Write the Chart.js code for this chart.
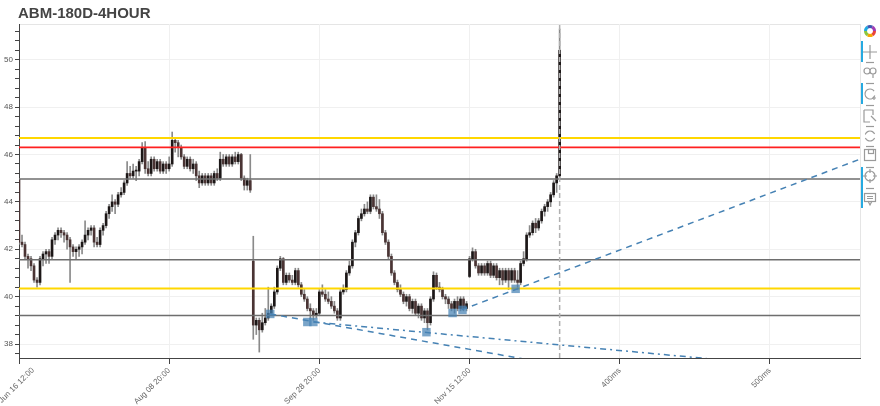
<!DOCTYPE html>
<html lang="en">
<head>
<meta charset="UTF-8" />
<title>ABM-180D-4HOUR</title>
<script src="https://cdn.jsdelivr.net/npm/chart.js@4"></script>
<style>
  html, body { margin: 0; padding: 0; background: #fff; }
  #wrap { position: relative; width: 880px; height: 406px; overflow: hidden; }
  #chart { position: absolute; left: 0; top: 0; }
  #title { position: absolute; left: 18px; top: 4px; font: bold 15px "Liberation Sans", Arial, sans-serif; color: #444; }
  #tools { position: absolute; left: 860px; top: 0; }
</style>
</head>
<body>
<div id="wrap">
  <canvas id="chart" width="880" height="406"></canvas>
  <div id="title">ABM-180D-4HOUR</div>
  <canvas id="tools" width="20" height="406"></canvas>
</div>
<script>
// 4-hour candles (one every 2 axis units)
const opens = [
  44.95,42.3,42.2,41.7,41.6,41.3,40.7,40.6,41.6,41.8,
  41.9,41.7,42.4,42.6,42.8,42.7,42.6,42.4,42.1,41.9,
  42.0,42.1,42.3,42.6,42.8,42.9,42.3,42.2,42.8,43.0,
  43.5,43.8,44.0,43.9,44.3,44.4,44.8,45.2,45.1,45.3,
  45.3,45.7,46.3,45.4,45.2,45.8,45.4,45.7,45.3,45.6,
  45.4,45.6,46.6,46.5,46.3,45.9,45.5,45.8,45.4,45.6,
  45.1,44.8,45.1,44.8,45.1,44.8,45.2,45.0,45.8,45.6,
  45.9,45.6,45.9,45.7,46.0,45.0,44.7,44.9,41.5,38.8,
  39.0,38.6,38.9,39.1,39.3,39.6,40.2,41.2,41.6,40.6,
  40.9,40.7,40.6,41.1,40.5,40.1,39.9,39.5,39.4,39.2,
  39.3,40.2,40.1,39.9,39.8,39.6,39.4,39.1,40.2,40.3,
  41.0,41.3,42.3,42.7,43.3,43.5,43.7,43.6,44.2,43.8,
  43.7,43.5,42.7,42.3,41.7,41.0,40.6,40.3,40.1,39.8,
  40.0,39.5,39.8,39.3,39.6,39.1,39.4,38.9,39.9,40.9,
  40.4,40.3,40.0,39.9,39.7,39.5,39.8,39.5,39.9,39.5,
  40.85,41.6,41.9,41.3,41.0,41.3,41.0,41.4,40.9,41.3,
  40.8,41.1,40.7,41.1,40.7,41.1,40.7,40.6,41.4,41.6,
  42.6,42.7,43.1,42.9,43.2,43.6,43.8,44.0,44.3,44.8,
  45.1
];
const highs = [
  45.0,42.6,42.3,41.8,41.7,41.4,40.8,41.7,41.9,42.0,
  42.0,42.5,42.7,42.9,42.9,42.8,42.7,42.5,42.2,42.1,
  42.2,42.4,43.2,42.9,43.0,43.0,42.5,42.9,43.1,43.6,
  43.9,44.3,44.1,44.4,44.6,44.9,45.7,45.5,45.6,45.5,
  45.8,46.5,46.55,45.7,45.9,45.9,45.8,45.8,45.7,45.7,
  45.9,46.95,46.7,46.6,46.4,46.0,45.9,45.9,45.8,45.7,
  45.3,45.2,45.2,45.2,45.2,45.3,45.4,46.1,46.0,46.0,
  46.0,46.0,46.1,46.1,46.05,45.1,45.0,46.0,42.55,39.1,
  39.1,39.3,39.5,40.4,39.7,40.4,41.3,41.7,41.65,41.0,
  41.0,40.9,41.2,41.2,40.6,40.3,40.0,39.7,39.5,39.5,
  40.3,40.5,40.3,40.2,40.0,39.8,39.5,40.3,40.5,41.1,
  41.5,42.4,42.8,43.4,43.7,43.9,44.0,44.3,44.3,44.3,
  44.1,43.6,42.8,42.4,41.8,41.1,40.7,40.5,40.2,40.1,
  40.1,39.9,39.9,39.7,39.7,39.5,39.5,40.0,41.05,41.0,
  40.6,40.4,40.1,40.0,39.8,39.9,40.0,40.0,40.0,39.8,
  41.7,42.06,42.0,41.4,41.4,41.4,41.5,41.5,41.4,41.4,
  41.2,41.2,41.2,41.2,41.2,41.2,41.1,41.5,41.9,42.7,
  43.0,43.2,43.3,43.3,43.7,43.9,44.1,44.4,44.9,45.2,
  51.3
];
const lows = [
  42.2,42.1,41.6,41.2,41.1,40.6,40.4,40.5,41.3,41.4,
  41.4,41.6,42.2,42.4,42.5,42.3,42.0,40.6,41.7,41.6,
  41.7,41.8,42.2,42.4,42.6,42.1,42.1,42.1,42.6,42.9,
  43.3,43.6,43.5,43.8,44.2,44.3,44.7,45.0,45.0,44.9,
  45.1,45.6,45.2,45.1,45.1,45.3,45.3,45.2,45.2,45.2,
  45.3,45.5,46.1,45.9,45.8,45.4,45.4,45.3,45.2,44.9,
  44.6,44.7,44.7,44.7,44.7,44.7,44.9,44.9,45.5,45.5,
  45.5,45.5,45.6,45.6,44.9,44.5,44.5,44.4,38.2,38.4,
  37.66,38.5,38.8,39.0,39.2,39.5,40.1,41.1,40.5,40.5,
  40.6,40.5,40.5,40.4,40.0,39.8,39.4,39.1,39.0,39.1,
  39.2,40.0,39.8,39.7,39.5,39.3,39.0,39.0,40.1,40.2,
  40.9,41.2,42.1,42.6,43.2,43.4,43.5,43.5,43.7,43.6,
  43.3,42.6,42.2,41.6,40.9,40.5,40.2,40.0,39.7,39.6,
  39.4,39.3,39.2,39.1,39.0,38.9,38.6,38.8,39.8,40.3,
  40.2,39.9,39.7,39.5,39.4,39.3,39.4,39.4,39.4,39.4,
  40.8,41.5,41.2,40.9,40.9,40.9,40.9,40.8,40.8,40.7,
  40.5,40.5,40.6,40.3,40.6,40.6,40.3,40.5,41.3,41.5,
  42.5,42.6,42.7,42.8,43.1,43.4,43.6,43.8,44.2,44.4,
  45.0
];
const closes = [
  42.3,42.2,41.7,41.6,41.3,40.7,40.6,41.6,41.8,41.9,
  41.7,42.4,42.6,42.8,42.7,42.6,42.4,42.1,41.9,42.0,
  42.1,42.3,42.6,42.8,42.9,42.3,42.2,42.8,43.0,43.5,
  43.8,44.0,43.9,44.3,44.4,44.8,45.2,45.1,45.3,45.3,
  45.7,46.3,45.4,45.2,45.8,45.4,45.7,45.3,45.6,45.4,
  45.6,46.6,46.5,46.3,45.9,45.5,45.8,45.4,45.6,45.1,
  44.8,45.1,44.8,45.1,44.8,45.2,45.0,45.8,45.6,45.9,
  45.6,45.9,45.7,46.0,45.0,44.7,44.9,44.5,38.8,39.0,
  38.6,38.9,39.1,39.3,39.6,40.2,41.2,41.6,40.6,40.9,
  40.7,40.6,41.1,40.5,40.1,39.9,39.5,39.4,39.2,39.3,
  40.2,40.1,39.9,39.8,39.6,39.4,39.1,40.2,40.3,41.0,
  41.3,42.3,42.7,43.3,43.5,43.7,43.6,44.2,43.8,43.7,
  43.5,42.7,42.3,41.7,41.0,40.6,40.3,40.1,39.8,40.0,
  39.5,39.8,39.3,39.6,39.1,39.4,38.9,39.9,40.9,40.4,
  40.3,40.0,39.9,39.7,39.5,39.8,39.5,39.9,39.5,39.7,
  41.6,41.9,41.3,41.0,41.3,41.0,41.4,40.9,41.3,40.8,
  41.1,40.7,41.1,40.7,41.1,40.7,40.6,41.4,41.6,42.6,
  42.7,43.1,42.9,43.2,43.6,43.8,44.0,44.3,44.8,45.1,
  50.4
];

// axis ticks
const xTickValues = [0, 100, 200, 300, 400, 500];
const xTickLabels = ['Jun 16 12:00', 'Aug 08 20:00', 'Sep 28 20:00', 'Nov 15 12:00', '400ms', '500ms'];
const yMajorTicks = [38, 40, 42, 44, 46, 48, 50];

// horizontal support / resistance levels
const levelValues = [46.70, 46.30, 44.97, 41.56, 40.34, 39.20];
// pivot lows (squares)
const pivotX = [167.3, 192, 196, 271.3, 288.7, 295.3, 330.7];
const pivotY = [39.27, 38.93, 38.93, 38.50, 39.31, 39.44, 40.33];
// trend lines: start and end points
const trendX1 = [167.3, 196, 294.7];
const trendY1 = [39.27, 38.93, 39.44];
const trendX2 = [336, 460.7, 560.7];
const trendY2 = [37.37, 37.37, 45.82];

const X_MIN = 0, X_MAX = 560, Y_MIN = 37.41, Y_MAX = 51.51, BAR_STEP = 2;
const levelColors = ['#ffd700', '#ff2020', '#6e6e6e', '#6e6e6e', '#ffd700', '#6e6e6e'];
const levelWidths = [2, 1.6, 1.5, 1.5, 2, 1.5];
const trendDash = [[6, 5], [6, 4, 2, 4], [6, 5]];
const INC = '#1c1717', DEC = '#4a3434', WICK = '#8a8a8a', BLUE = '#4682b4';
const FONT = '"Liberation Sans", Arial, sans-serif';

Chart.defaults.font.family = FONT;

const barX = closes.map((_, k) => k * BAR_STEP);
const datasets = [];

datasets.push({
  type: 'bar', order: 20, grouped: false,
  data: barX.map((x, k) => ({ x: x, y: [lows[k], highs[k]] })),
  backgroundColor: WICK, borderWidth: 0, barThickness: 1
});
datasets.push({
  type: 'bar', order: 19, grouped: false, minBarLength: 1,
  data: barX.map((x, k) => ({ x: x, y: [opens[k], closes[k]] })),
  backgroundColor: ctx => closes[ctx.dataIndex] >= opens[ctx.dataIndex] ? INC : DEC,
  borderWidth: 0, barThickness: 2
});

levelValues.forEach((v, k) => datasets.push({
  type: 'line', order: 10,
  data: [{ x: X_MIN, y: v }, { x: X_MAX, y: v }],
  borderColor: levelColors[k], borderWidth: levelWidths[k],
  pointRadius: 0, fill: false
}));

const lastX = barX[barX.length - 1];
datasets.push({
  type: 'line', order: 9,
  data: [{ x: lastX, y: Y_MIN }, { x: lastX, y: Y_MAX }],
  borderColor: '#b0b0b0', borderWidth: 1.5, borderDash: [5, 3],
  pointRadius: 0, fill: false
});

trendX1.forEach((x, k) => datasets.push({
  type: 'line', order: 5,
  data: [{ x: x, y: trendY1[k] }, { x: trendX2[k], y: trendY2[k] }],
  borderColor: BLUE, borderWidth: 1.5, borderDash: trendDash[k],
  pointRadius: 0, fill: false
}));

datasets.push({
  type: 'line', order: 1, showLine: false,
  data: pivotX.map((x, k) => ({ x: x, y: pivotY[k] })),
  pointStyle: 'rect', pointRadius: 6, pointHoverRadius: 6,
  backgroundColor: 'rgba(70,130,180,0.72)', borderColor: 'rgba(70,130,180,0.72)', borderWidth: 0
});

const isMajor = v => Math.round(v * 10) % 20 === 0;

const frame = {
  id: 'frame',
  beforeDraw(chart) {
    const { ctx, chartArea: a } = chart;
    ctx.save();
    ctx.strokeStyle = '#e5e5e5';
    ctx.lineWidth = 1;
    ctx.strokeRect(a.left + 0.5, a.top + 0.5, a.right - a.left, a.bottom - a.top);
    ctx.restore();
  },
  // first date label is nudged right so it stays on the canvas
  afterDraw(chart) {
    const s = chart.scales.x, ctx = chart.ctx;
    ctx.save();
    ctx.translate(s.getPixelForValue(xTickValues[0]) + 14, s.top + 11);
    ctx.rotate(-Math.PI / 4);
    ctx.font = '8px ' + FONT;
    ctx.fillStyle = '#666';
    ctx.textAlign = 'right';
    ctx.textBaseline = 'middle';
    ctx.fillText(xTickLabels[0], 0, 0);
    ctx.restore();
  }
};

new Chart(document.getElementById('chart'), {
  type: 'bar',
  data: { datasets },
  options: {
    responsive: false,
    animation: false,
    devicePixelRatio: 1,
    layout: { padding: { top: 24, right: 20, left: 0, bottom: 0 } },
    plugins: { legend: { display: false }, tooltip: { enabled: false } },
    scales: {
      x: {
        type: 'linear', min: X_MIN, max: X_MAX, offset: false,
        afterBuildTicks: s => { s.ticks = xTickValues.map(v => ({ value: v })); },
        afterFit: s => { s.height = 48; s.paddingLeft = 0; s.paddingRight = 0; },
        ticks: {
          autoSkip: false, minRotation: 45, maxRotation: 45, padding: 2,
          color: '#666', font: { size: 8 },
          callback: v => v === xTickValues[0] ? '' : xTickLabels[xTickValues.indexOf(v)]
        },
        grid: { offset: false, color: '#f0f0f0', tickLength: 6, tickColor: '#444' },
        border: { color: '#444', width: 1 }
      },
      y: {
        type: 'linear', min: Y_MIN, max: Y_MAX,
        afterBuildTicks: s => {
          const t = [];
          for (let k = Math.ceil(Y_MIN / 0.4); k * 0.4 <= Y_MAX; k++) t.push({ value: Math.round(k * 4) / 10 });
          s.ticks = t;
        },
        afterFit: s => { s.width = 19; s.paddingTop = 0; s.paddingBottom = 0; },
        ticks: {
          autoSkip: false, padding: 2, color: '#555', font: { size: 8 },
          callback: v => (isMajor(v) && yMajorTicks.includes(Math.round(v))) ? String(Math.round(v)) : ''
        },
        grid: {
          color: ctx => (ctx.tick && isMajor(ctx.tick.value)) ? '#f0f0f0' : 'rgba(0,0,0,0)',
          tickLength: 4, tickColor: '#444'
        },
        border: { color: '#444', width: 1 }
      }
    }
  },
  plugins: [frame]
});

// toolbar on the right
const t = document.getElementById('tools').getContext('2d');
const logoColors = ['#e8443a', '#f7a600', '#8cc63f', '#1fa9e1', '#4054b2', '#a03cb4'];
logoColors.forEach((c, k) => {
  t.beginPath(); t.strokeStyle = c; t.lineWidth = 3;
  t.arc(10, 31, 4.5, k * Math.PI / 3, (k + 1) * Math.PI / 3); t.stroke();
});
t.fillStyle = '#26aae1';
[[41, 21], [83, 21], [167, 41]].forEach(([y, h]) => t.fillRect(1, y, 2, h));
t.strokeStyle = '#9a9a9a'; t.lineWidth = 1.2;
[62, 83, 105, 126, 146, 167, 188].forEach(y => { t.beginPath(); t.moveTo(6, y + 0.5); t.lineTo(14, y + 0.5); t.stroke(); });
// pan
t.beginPath(); t.moveTo(10, 45); t.lineTo(10, 59); t.moveTo(3, 52); t.lineTo(17, 52); t.stroke();
// box zoom
t.beginPath(); t.arc(7, 71, 3, 0, Math.PI * 2); t.moveTo(16, 71); t.arc(13, 71, 3, 0, Math.PI * 2); t.moveTo(13, 74); t.lineTo(13, 78); t.stroke();
// wheel zoom
t.beginPath(); t.arc(10, 94, 5, 0.3, Math.PI * 1.8); t.moveTo(12, 98); t.lineTo(16, 98); t.moveTo(14, 96); t.lineTo(14, 100); t.stroke();
// box select
t.beginPath(); t.moveTo(4, 110); t.lineTo(13, 110); t.lineTo(13, 115); t.moveTo(4, 110); t.lineTo(4, 122); t.lineTo(10, 122); t.moveTo(11, 116); t.lineTo(16, 121); t.stroke();
// reset
t.beginPath(); t.arc(10, 136, 5, 0.4, Math.PI - 0.4); t.moveTo(5, 134); t.arc(10, 136, 5, Math.PI + 0.4, Math.PI * 2 - 0.4); t.stroke();
// save
t.strokeRect(4.5, 149.5, 11, 11); t.strokeRect(8.5, 149.5, 5, 4);
// crosshair
t.beginPath(); t.arc(10, 176, 5, 0, Math.PI * 2); t.moveTo(10, 169); t.lineTo(10, 173); t.moveTo(10, 179); t.lineTo(10, 183); t.moveTo(3, 176); t.lineTo(7, 176); t.moveTo(13, 176); t.lineTo(17, 176); t.stroke();
// hover
t.strokeRect(4.5, 193.5, 11, 8); t.beginPath(); t.moveTo(8, 201); t.lineTo(10, 205); t.lineTo(12, 201); t.moveTo(7, 196.5); t.lineTo(13, 196.5); t.moveTo(7, 198.5); t.lineTo(13, 198.5); t.stroke();
</script>
</body>
</html>
